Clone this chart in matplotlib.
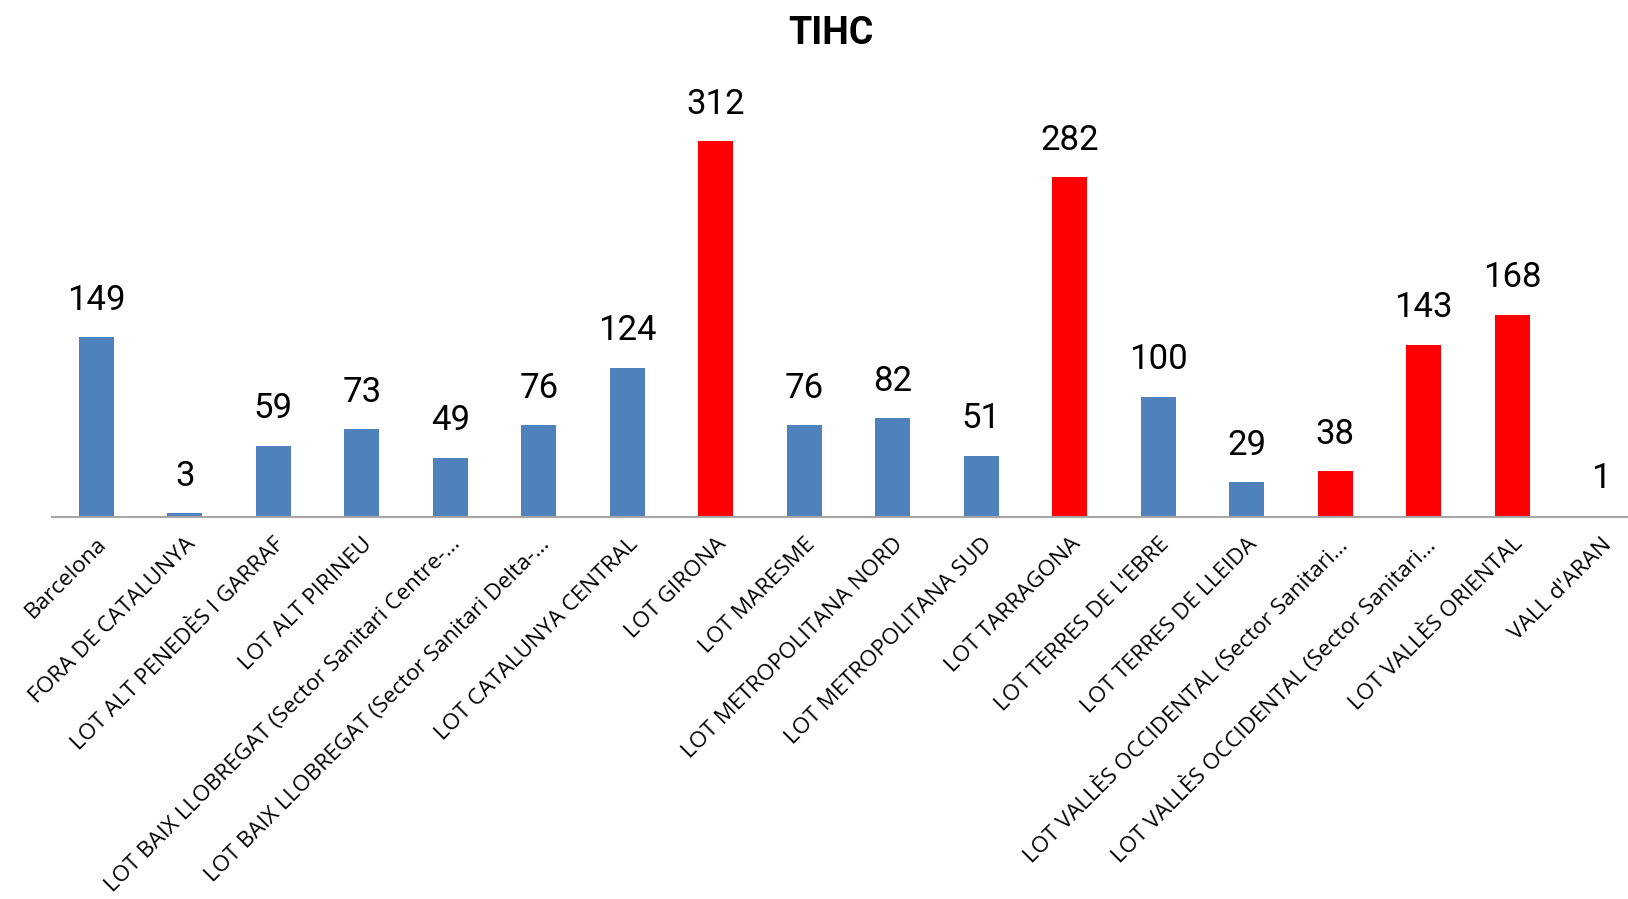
import matplotlib
matplotlib.use("Agg")
from matplotlib import pyplot as plt

# Areas and TIHC counts
areas = [
    "Barcelona",
    "FORA DE CATALUNYA",
    "LOT ALT PENEDÈS I GARRAF",
    "LOT ALT PIRINEU",
    "LOT BAIX LLOBREGAT (Sector Sanitari Centre-…",
    "LOT BAIX LLOBREGAT (Sector Sanitari Delta-…",
    "LOT CATALUNYA CENTRAL",
    "LOT GIRONA",
    "LOT MARESME",
    "LOT METROPOLITANA NORD",
    "LOT METROPOLITANA SUD",
    "LOT TARRAGONA",
    "LOT TERRES DE L'EBRE",
    "LOT TERRES DE LLEIDA",
    "LOT VALLÈS OCCIDENTAL (Sector Sanitari…",
    "LOT VALLÈS OCCIDENTAL (Sector Sanitari…",
    "LOT VALLÈS ORIENTAL",
    "VALL d'ARAN",
]
counts = [149, 3, 59, 73, 49, 76, 124, 312, 76, 82, 51, 282, 100, 29, 38, 143, 168, 1]
# positions of the bars drawn in red
highlighted = [7, 11, 14, 15, 16]

BLUE = "#4F81BD"
RED = "#FF0000"

colors = [RED if i in highlighted else BLUE for i in range(len(areas))]

W, H = 1628, 899
fig = plt.figure(figsize=(W / 100, H / 100), dpi=100)

# axes in pixel terms: left edge 52, baseline at 517 from top, slot width 88.5
left_px, base_px, slot_px = 52, 517, 88.5
ymax = 350
px_per_unit = 1.205
top_px = base_px - ymax * px_per_unit
ax = fig.add_axes([left_px / W, 1 - base_px / H,
                   len(areas) * slot_px / W, (base_px - top_px) / H])

x = list(range(len(areas)))
ax.bar(x, counts, width=0.40, color=colors, zorder=2)
ax.set_xlim(-0.5, len(areas) - 0.5)
ax.set_ylim(0, ymax)

for xi, v in zip(x, counts):
    ax.annotate(str(v), (xi, v), xytext=(0, 37), textcoords="offset pixels",
                ha="center", va="center", fontsize=25, family="Roboto")

for s in ["top", "right", "left"]:
    ax.spines[s].set_visible(False)
ax.spines["bottom"].set_color("#A6A6A6")
ax.spines["bottom"].set_linewidth(1.5)
ax.set_yticks([])
ax.set_xticks(x)
ax.set_xticklabels(areas, rotation=45, ha="right", va="top",
                   rotation_mode="anchor", fontsize=16.2, family="Open Sans")
ax.tick_params(axis="x", length=0, pad=12)

fig.text(831 / W, 1 - 33 / H, "TIHC", ha="center", va="center",
         fontsize=27, fontweight="bold", family="Roboto")

fig.savefig("out.png", dpi=100)
